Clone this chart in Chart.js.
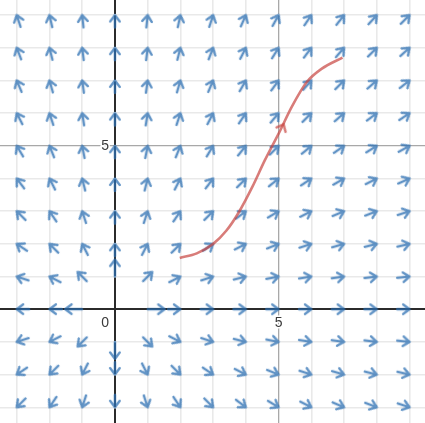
<!DOCTYPE html>
<html>
<head>
<meta charset="utf-8">
<script src="https://cdn.jsdelivr.net/npm/chart.js@4"></script>
<style>
  html, body { margin: 0; padding: 0; background: #fff; }
  #field { display: block; }
</style>
</head>
<body>
<canvas id="field" width="425" height="423"></canvas>
<script>
// grid sample points of the direction field
const gridX = [-3, -2, -1, 0, 1, 2, 3, 4, 5, 6, 7, 8, 9];
const gridY = [9, 8, 7, 6, 5, 4, 3, 2, 1, 0, -1, -2, -3];

// arrow direction in degrees (counter-clockwise from +x), one row per gridY, null = no arrow
const angleRows = [
  [108, 103, 96, 90, 84, 78, 72, 66, 61, 56, 52, 48, 45],   // y = 9
  [111, 104, 97, 90, 83, 76, 69, 63, 58, 53, 49, 45, 42],   // y = 8
  [113, 106, 98, 90, 82, 74, 67, 60, 54, 49, 45, 41, 38],   // y = 7
  [117, 108, 99, 90, 81, 72, 63, 56, 50, 45, 41, 37, 34],   // y = 6
  [121, 112, 101, 90, 79, 68, 59, 51, 45, 40, 35, 32, 29],  // y = 5
  [127, 117, 104, 90, 76, 63, 53, 45, 39, 34, 30, 27, 24],  // y = 4
  [135, 124, 108, 90, 72, 56, 45, 37, 31, 27, 23, 21, 18],  // y = 3
  [146, 135, 117, 90, 63, 45, 34, 27, 22, 18, 16, 14, 13],  // y = 2
  [162, 153, 135, 90, 45, 27, 18, 14, 11, 9, 8, 7, 6],      // y = 1
  [180, 180, 180, null, 0, 0, 0, 0, 0, 0, 0, 0, 0],         // y = 0
  [-162, -153, -135, -90, -45, -27, -18, -14, -11, -9, -8, -7, -6],
  [-146, -135, -117, -90, -63, -45, -34, -27, -22, -18, -16, -14, -13],
  [-135, -124, -108, -90, -72, -56, -45, -37, -31, -27, -23, -21, -18]
];

// red solution curve
const curveX = [1.98, 2.5, 3.0, 3.4, 3.78, 4.2, 4.58, 4.79, 5.0, 5.4, 5.86, 6.32, 6.95];
const curveY = [1.57, 1.71, 2.0, 2.4, 2.96, 3.75, 4.56, 4.97, 5.37, 6.19, 6.95, 7.36, 7.7];
const curveArrow = { x: 5.14, y: 5.63, angle: 64 };

const xTickLabels = [5];
const yTickLabels = [5];
const originLabel = "0";

const BLUE = "rgba(45, 112, 179, 0.75)";
const RED = "rgba(199, 68, 64, 0.7)";

// arrow glyph pointing right; anchor says where the point sits on the arrow
function makeArrow(len, anchor) {
  const w = 2 * len + 8, h = 22;
  const c = document.createElement("canvas");
  c.width = w; c.height = h;
  const g = c.getContext("2d");
  const cx = w / 2, cy = h / 2;
  let tip = cx;
  if (anchor === "tail") tip = cx + len;
  if (anchor === "mid") tip = cx + len / 2;
  const arm = 8, spread = 36 * Math.PI / 180;
  g.strokeStyle = BLUE;
  g.lineWidth = 2.3;
  g.lineCap = "round";
  g.lineJoin = "round";
  g.beginPath();
  g.moveTo(tip - len, cy);
  g.lineTo(tip, cy);
  g.moveTo(tip - arm * Math.cos(spread), cy - arm * Math.sin(spread));
  g.lineTo(tip, cy);
  g.lineTo(tip - arm * Math.cos(spread), cy + arm * Math.sin(spread));
  g.stroke();
  return c;
}

function makeChevron() {
  const c = document.createElement("canvas");
  c.width = 16; c.height = 16;
  const g = c.getContext("2d");
  g.strokeStyle = RED;
  g.lineWidth = 2.4;
  g.lineCap = "round";
  g.beginPath();
  g.moveTo(3, 3);
  g.lineTo(9, 8);
  g.lineTo(3, 13);
  g.stroke();
  return c;
}

const arrowTip = makeArrow(12.5, "tip");
const arrowTail = makeArrow(17, "tail");
const arrowMid = makeArrow(13, "mid");

const fieldPoints = [];
gridY.forEach((y, r) => {
  gridX.forEach((x, k) => {
    const a = angleRows[r][k];
    if (a === null) return;
    fieldPoints.push({ x: x, y: y, angle: a });
  });
});

function pickStyle(p) {
  const ax = Math.abs(p.x), ay = Math.abs(p.y);
  if (ax + ay === 1) return arrowTail;
  if (ax === 1 && ay === 1) return arrowMid;
  return arrowTip;
}

function gridColor(ctx) {
  const v = ctx.tick.value;
  if (v === 0) return "#2b2b2b";
  if (Math.abs(v) === 5) return "#a8a8a8";
  return "#e9e9e9";
}
function gridWidth(ctx) {
  const v = ctx.tick.value;
  if (v === 0) return 2;
  if (Math.abs(v) === 5) return 1.3;
  return 1.6;
}

const axisLabels = {
  id: "axisLabels",
  afterDatasetsDraw(chart) {
    const g = chart.ctx;
    const xs = chart.scales.x, ys = chart.scales.y;
    const ox = xs.getPixelForValue(0), oy = ys.getPixelForValue(0);
    g.save();
    g.font = "14px 'Liberation Sans', Arial, sans-serif";
    g.fillStyle = "#3a3a3a";
    g.strokeStyle = "#fff";
    g.lineWidth = 3;
    g.textBaseline = "middle";
    const put = (t, x, y, align) => {
      g.textAlign = align;
      g.strokeText(t, x, y);
      g.fillText(t, x, y);
    };
    put(originLabel, ox - 6, oy + 14, "right");
    xTickLabels.forEach(v => put(String(v), xs.getPixelForValue(v), oy + 14, "center"));
    yTickLabels.forEach(v => put(String(v), ox - 6, ys.getPixelForValue(v), "right"));
    g.restore();
  }
};

new Chart(document.getElementById("field"), {
  type: "scatter",
  data: {
    datasets: [
      {
        data: fieldPoints,
        pointStyle: ctx => pickStyle(ctx.raw),
        rotation: ctx => -ctx.raw.angle,
        pointRadius: 6,
        pointHoverRadius: 6,
        order: 2
      },
      {
        type: "line",
        data: curveX.map((x, i) => ({ x: x, y: curveY[i] })),
        borderColor: RED,
        borderWidth: 2.6,
        pointRadius: 0,
        cubicInterpolationMode: "monotone",
        fill: false,
        order: 1
      },
      {
        data: [curveArrow],
        pointStyle: makeChevron(),
        rotation: -curveArrow.angle,
        pointRadius: 6,
        order: 0
      }
    ]
  },
  options: {
    responsive: false,
    animation: false,
    devicePixelRatio: 1,
    events: [],
    layout: { padding: 0, autoPadding: false },
    plugins: { legend: { display: false }, tooltip: { enabled: false } },
    scales: {
      x: {
        type: "linear",
        min: -3.51,
        max: 9.47,
        ticks: { stepSize: 1, display: false, includeBounds: false },
        grid: { drawTicks: false, color: gridColor, lineWidth: gridWidth },
        border: { display: false }
      },
      y: {
        type: "linear",
        min: -3.48,
        max: 9.46,
        ticks: { stepSize: 1, display: false, includeBounds: false },
        grid: { drawTicks: false, color: gridColor, lineWidth: gridWidth },
        border: { display: false }
      }
    }
  },
  plugins: [axisLabels]
});
</script>
</body>
</html>
